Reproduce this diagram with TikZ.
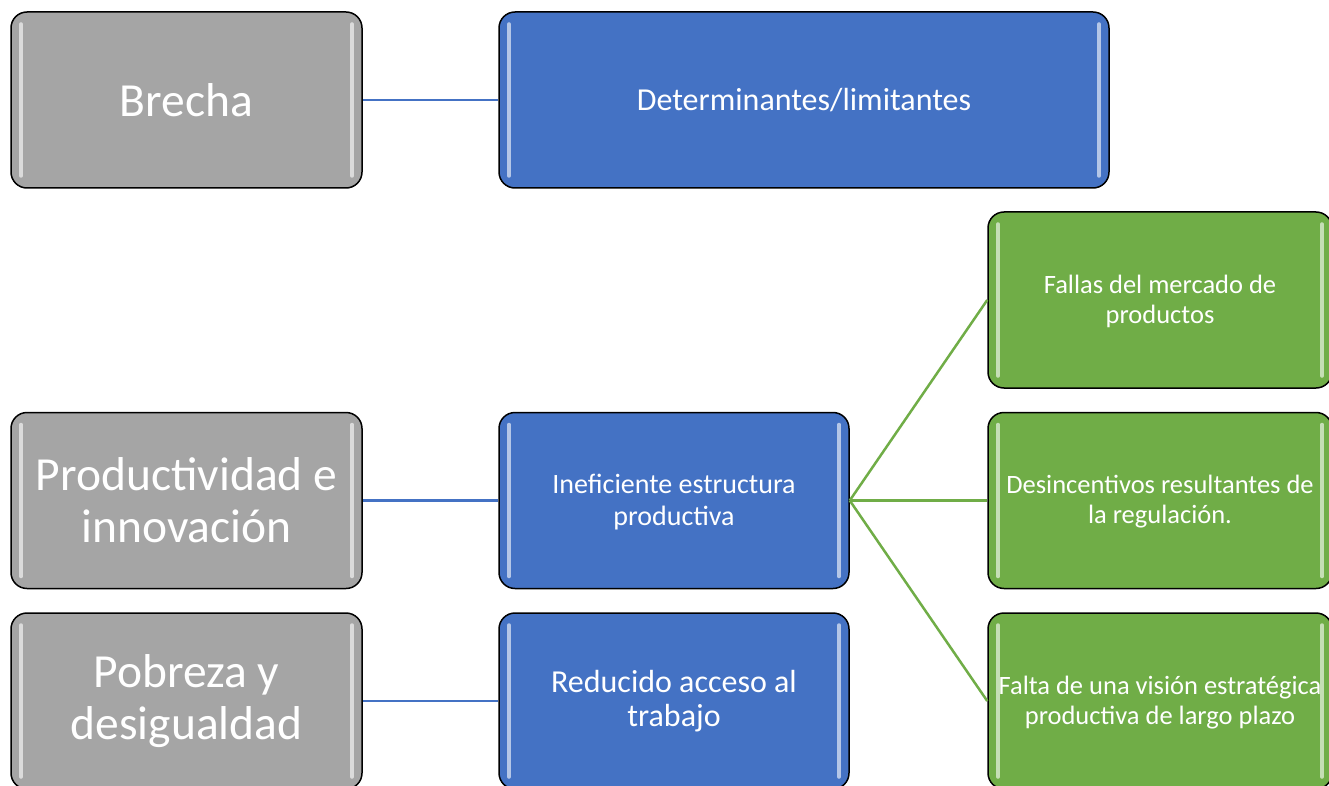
\documentclass[tikz,border=0pt]{standalone}
\usepackage{fontspec}
\setmainfont{Carlito}
\definecolor{boxgray}{HTML}{A5A5A5}
\definecolor{boxblue}{HTML}{4472C4}
\definecolor{boxgreen}{HTML}{70AD47}
\tikzset{
  cardbox/.style={draw=black, line width=1.5pt, rounded corners=16pt, text=white,
    align=center, inner sep=0pt, minimum height=176pt,
    path picture={
      \draw[white, opacity=.6, line width=3.5pt, line cap=round]
        ([shift={(10pt,-12pt)}]path picture bounding box.north west) --
        ([shift={(10pt,12pt)}]path picture bounding box.south west)
        ([shift={(-10pt,-12pt)}]path picture bounding box.north east) --
        ([shift={(-10pt,12pt)}]path picture bounding box.south east);
    }},
  gapbox/.style={cardbox, fill=boxgray, minimum width=351pt, font=\fontsize{47.5}{52}\selectfont},
  causebox/.style={cardbox, fill=boxblue, minimum width=350pt, font=\fontsize{32}{34}\selectfont},
  factorbox/.style={cardbox, fill=boxgreen, minimum width=344pt, font=\fontsize{26.5}{30}\selectfont},
  bluelink/.style={draw=boxblue, line width=2.5pt},
  greenlink/.style={draw=boxgreen, line width=2.5pt}
}
\begin{document}
\begin{tikzpicture}[x=1pt, y=-1pt]
      \useasboundingbox (0,0) rectangle (1329,786);
      % column of gaps
      \node[gapbox] (brecha) at (186.5,100) {Brecha};
      \node[gapbox] (prod) at (186.5,500.5) {Productividad e\\innovación};
      \node[gapbox] (pobreza) at (186.5,701) {Pobreza y\\desigualdad};
      % determinants
      \node[causebox, minimum width=610pt] (determ) at (804,100) {Determinantes/limitantes};
      \node[causebox, font=\fontsize{28}{32}\selectfont] (inef) at (674,500.5) {\strut Ineficiente estructura\\productiva};
      \node[causebox] (reduc) at (674,701) {Reducido acceso al\\trabajo};
      % sub factors
      \node[factorbox] (fallas) at (1160,300) {\strut Fallas del mercado de\\productos};
      \node[factorbox] (desinc) at (1160,500.5) {\strut Desincentivos resultantes de\\la regulación.};
      \node[factorbox] (falta) at (1160,701) {\strut Falta de una visión estratégica\\productiva de largo plazo};

      \draw[bluelink] (brecha.east) -- (determ.west);
      \draw[bluelink] (prod.east) -- (inef.west);
      \draw[bluelink] (pobreza.east) -- (reduc.west);
      \draw[greenlink] (inef.east) -- (fallas.west);
      \draw[greenlink] (inef.east) -- (desinc.west);
      \draw[greenlink] (inef.east) -- (falta.west);
    \end{tikzpicture}
\end{document}
